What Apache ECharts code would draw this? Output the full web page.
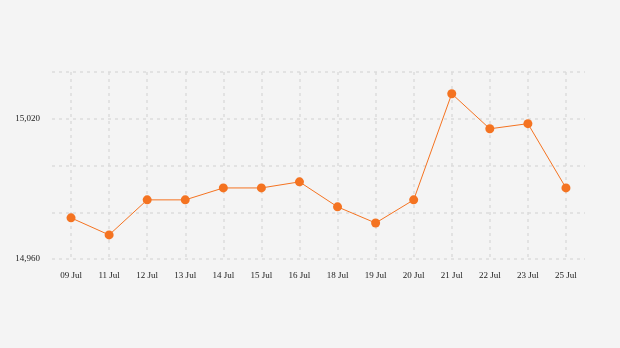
<!DOCTYPE html>
<html><head><meta charset="utf-8">
<script src="https://cdn.jsdelivr.net/npm/echarts@6/dist/echarts.min.js"></script>
<style>html,body{margin:0;padding:0;background:#f4f4f4}#c{width:620px;height:348px}</style>
</head><body><div id="c"></div>
<script>
const categories = ['09 Jul','11 Jul','12 Jul','13 Jul','14 Jul','15 Jul','16 Jul','18 Jul','19 Jul','20 Jul','21 Jul','22 Jul','23 Jul','25 Jul'];
const values = [14977.6,14970.3,14985.3,14985.3,14990.4,14990.4,14993,14982.3,14975.4,14985.3,15030.7,15015.7,15017.9,14990.4];
const yLabels = [14960, 15020];
const chart = echarts.init(document.getElementById('c'));
const grid = {type:[3,4], color:'#dcdcdc', width:1.5};
chart.setOption({
  backgroundColor:'#f4f4f4',
  animation:false,
  grid:{left:52, right:35, top:72, bottom:89},
  xAxis:{type:'category', data:categories, boundaryGap:true,
    axisLine:{show:false}, axisTick:{show:false, alignWithLabel:true},
    axisLabel:{color:'#222', fontFamily:'Liberation Serif', fontSize:9, margin:12},
    splitLine:{show:true, alignWithLabel:true, lineStyle:grid}},
  yAxis:{type:'value', min:14960, max:15040, interval:20,
    axisLine:{show:false}, axisTick:{show:false},
    axisLabel:{color:'#222', fontFamily:'Liberation Serif', fontSize:9, margin:12,
      formatter:v => yLabels.includes(v) ? v.toLocaleString('en-US') : ''},
    splitLine:{lineStyle:grid}},
  series:[{type:'line', data:values, symbol:'circle', symbolSize:9,
    itemStyle:{color:'#f47321'}, lineStyle:{color:'#f47321', width:1}}]
});
</script></body></html>
